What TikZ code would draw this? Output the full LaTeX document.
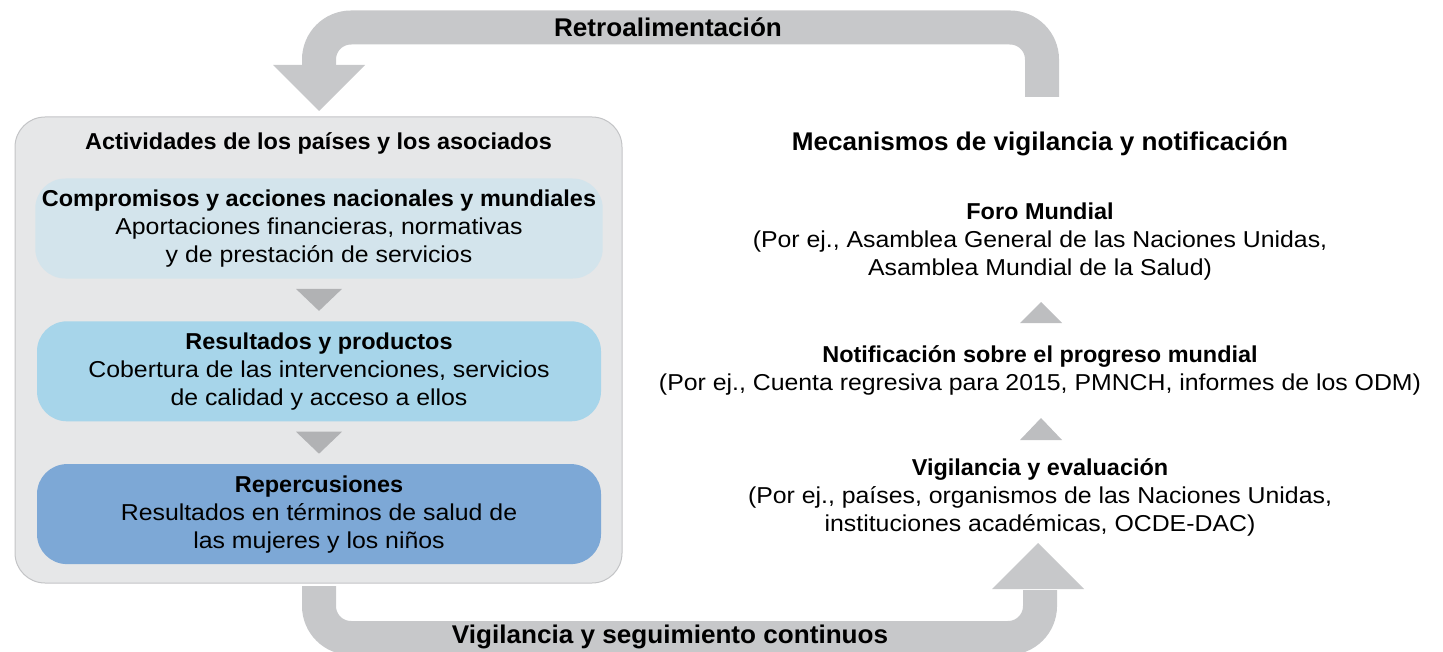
\documentclass[tikz,border=0pt]{standalone}
\usepackage{fontspec}
\setmainfont{Liberation Sans}[FakeStretch=1.08, BoldFeatures={FakeStretch=1.02}]
\usetikzlibrary{positioning,calc}

\definecolor{bandgray}{HTML}{C7C8CA}
\definecolor{trigray}{HTML}{B1B2B4}
\definecolor{uptri}{HTML}{BDBEC0}
\definecolor{panelfill}{HTML}{E6E7E8}
\definecolor{paneldraw}{HTML}{C3C4C6}
\definecolor{compfill}{HTML}{D3E4EC}
\definecolor{resfill}{HTML}{A7D5EA}
\definecolor{repfill}{HTML}{7DA8D6}

\tikzset{
  stage/.style={rounded corners=15pt, minimum width=282pt, minimum height=50pt,
    align=center, font=\fontsize{11.5}{14}\selectfont},
  band/.style={draw=bandgray, line width=17pt, rounded corners=16pt},
  mech/.style={align=center, font=\fontsize{11.5}{14}\selectfont},
  head/.style={font=\bfseries\fontsize{12.8}{14}\selectfont},
}

\begin{document}
\begin{tikzpicture}[x=0.5pt,y=-0.5pt,node distance=21pt]
\useasboundingbox (0,0) rectangle (1443,652);

% feedback loop on top and monitoring loop below
\draw[band] (1042,97) -- (1042,27.5) -- (319,27.5) -- (319,67);
\fill[bandgray] (273,65) -- (365,65) -- (319,111) -- cycle;
\draw[band] (319,586) -- (319,638) -- (1040,638) -- (1040,590);
\fill[bandgray] (992,589) -- (1084,589) -- (1038,543) -- cycle;
\node[head] (retro) at (668,27.5) {Retroalimentación};
\node[head] (segui) at (670,637) {Vigilancia y seguimiento continuos};

% countries and partners
\node[fill=panelfill, draw=paneldraw, line width=0.5pt, rounded corners=15pt,
  minimum width=303.5pt, minimum height=233pt] (panel) at (318.5,350) {};
\node[font=\bfseries\fontsize{11.5}{14}\selectfont] (act) at (318.5,143) {Actividades de los países y los asociados};
\node[stage, fill=compfill] (comp) at (319,228.5)
  {\textbf{Compromisos y acciones nacionales y mundiales}\\Aportaciones financieras, normativas\\y de prestación de servicios};
\node[stage, fill=resfill, below=of comp] (res)
  {\textbf{Resultados y productos}\\Cobertura de las intervenciones, servicios\\de calidad y acceso a ellos};
\node[stage, fill=repfill, below=of res] (rep)
  {\textbf{Repercusiones}\\Resultados en términos de salud de\\las mujeres y los niños};
\fill[trigray] ($(comp.south)!0.5!(res.north)$) ++(-23,-11) -- ++(46,0) -- ++(-23,22) -- cycle;
\fill[trigray] ($(res.south)!0.5!(rep.north)$) ++(-23,-11) -- ++(46,0) -- ++(-23,22) -- cycle;

% monitoring and reporting
\node[head] (mec) at (1040,144) {Mecanismos de vigilancia y notificación};
\node[mech] (foro) at (1040,242)
  {\textbf{Foro Mundial}\\(Por ej., Asamblea General de las Naciones Unidas,\\Asamblea Mundial de la Salud)};
\node[mech] (notif) at (1040,370)
  {\textbf{Notificación sobre el progreso mundial}\\(Por ej., Cuenta regresiva para 2015, PMNCH, informes de los ODM)};
\node[mech] (vig) at (1040,497)
  {\textbf{Vigilancia y evaluación}\\(Por ej., países, organismos de las Naciones Unidas,\\instituciones académicas, OCDE-DAC)};
\fill[uptri] (1041,302) -- (1062,323) -- (1020,323) -- cycle;
\fill[uptri] (1041,418) -- (1062,440) -- (1020,440) -- cycle;
\end{tikzpicture}
\end{document}
